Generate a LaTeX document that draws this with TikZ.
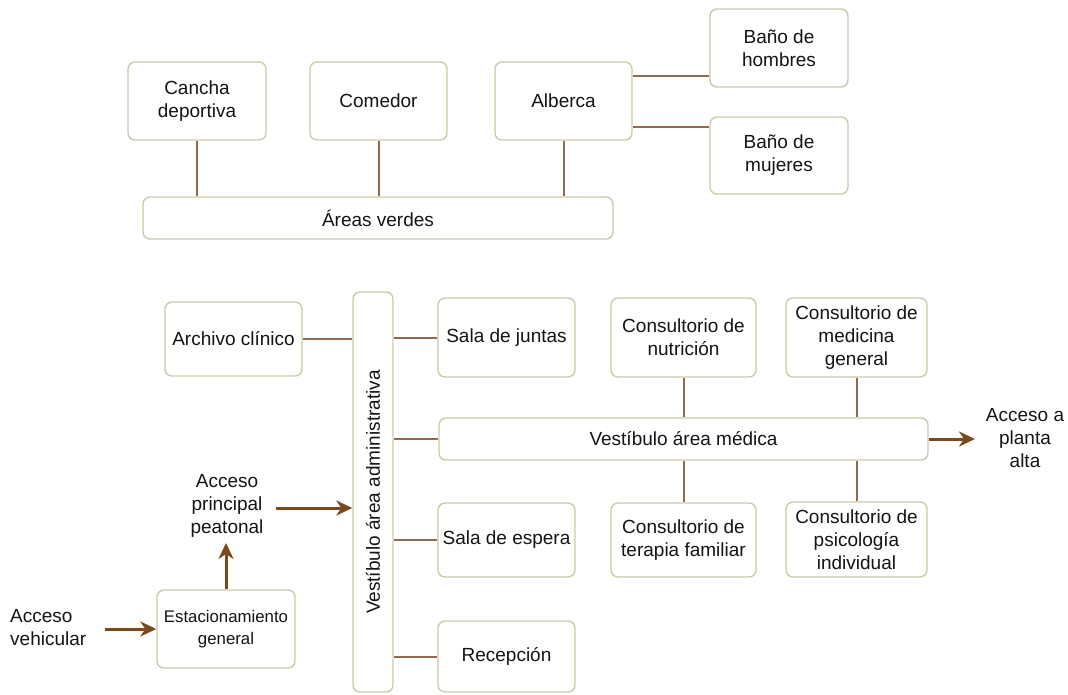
\documentclass[tikz,border=0pt]{standalone}
\usepackage{fontspec}
\setmainfont{Liberation Sans}
\usetikzlibrary{arrows.meta}
\definecolor{boxc}{RGB}{200,204,172}
\definecolor{linec}{RGB}{145,106,80}
\definecolor{arrc}{RGB}{122,74,30}
\definecolor{txtc}{RGB}{20,20,20}
\tikzset{
  box/.style={draw=boxc, line width=1.4pt, rounded corners=7pt, fill=white, align=center, inner sep=2pt,
    text=txtc, font=\fontsize{19}{23}\selectfont},
  lbl/.style={align=center, inner sep=0pt, text=txtc, font=\fontsize{19}{23}\selectfont},
  conn/.style={draw=linec, line width=2pt},
  arr/.style={draw=arrc, line width=3pt, -{Stealth[length=16pt,width=15pt,inset=5pt]}}
}
\begin{document}
\begin{tikzpicture}[x=1pt,y=-1pt]
\useasboundingbox (0,0) rectangle (1068,694);
% top group
\node[box, minimum width=138, minimum height=78] (cancha) at (197,101) {Cancha\\deportiva};
\node[box, minimum width=137, minimum height=78] (comedor) at (378.5,101) {Comedor};
\node[box, minimum width=137, minimum height=78] (alberca) at (563.5,101) {Alberca};
\node[box, minimum width=138, minimum height=78] (hombres) at (779,48) {Baño de\\hombres};
\node[box, minimum width=138, minimum height=77] (mujeres) at (779,155.5) {Baño de\\mujeres};
\node[box, minimum width=470, minimum height=42] (verdes) at (378,218) {Áreas verdes};
\draw[conn] (cancha.south) -- (cancha.south |- verdes.north);
\draw[conn] (comedor.south) -- (comedor.south |- verdes.north);
\draw[conn] (alberca.south) -- (alberca.south |- verdes.north);
\draw[conn] ([yshift=25pt]alberca.east) -- ([yshift=25pt]alberca.east -| hombres.west);
\draw[conn] ([yshift=-26pt]alberca.east) -- ([yshift=-26pt]alberca.east -| mujeres.west);
% bottom group
\node[box, rotate=90, minimum width=400, minimum height=40] (vadmin) at (373,492) {Vestíbulo área administrativa};
\node[box, minimum width=137, minimum height=74] (archivo) at (233.5,339) {Archivo clínico};
\node[box, minimum width=137, minimum height=79] (juntas) at (506.5,337.5) {Sala de juntas};
\node[box, minimum width=489, minimum height=42] (vmed) at (683.5,439) {Vestíbulo área médica};
\node[box, minimum width=137, minimum height=74] (espera) at (506.5,540) {Sala de espera};
\node[box, minimum width=137, minimum height=71] (recep) at (506.5,656.5) {Recepción};
\node[box, minimum width=145, minimum height=79] (nutri) at (683.5,337.5) {Consultorio de\\nutrición};
\node[box, minimum width=141, minimum height=79] (medic) at (856.5,337.5) {Consultorio de\\medicina\\general};
\node[box, minimum width=145, minimum height=74] (terap) at (683.5,540) {Consultorio de\\terapia familiar};
\node[box, minimum width=141, minimum height=75] (psico) at (856.5,539.5) {Consultorio de\\psicología\\individual};
\node[box, minimum width=138, minimum height=78, font=\fontsize{16.8}{21.5}\selectfont] (estac) at (226,629) {Estacionamiento\\general};
\node[lbl, align=left, anchor=west] (vehic) at (10,628) {Acceso\\vehicular};
\node[lbl] (peat) at (227,506) {Acceso\\principal\\peatonal};
\node[lbl] (planta) at (1025,438) {Acceso a\\planta\\alta};
\coordinate (vehA) at (105,629);
\coordinate (peatA) at (276,508);
\coordinate (peatB) at (226,543);
\coordinate (plantaB) at (975,439);
% connectors
\draw[conn] (archivo.east) -- (archivo.east -| vadmin.north);
\draw[conn] (juntas.west) -- (juntas.west -| vadmin.south);
\draw[conn] (vmed.west) -- (vmed.west -| vadmin.south);
\draw[conn] (espera.west) -- (espera.west -| vadmin.south);
\draw[conn] (recep.west) -- (recep.west -| vadmin.south);
\draw[conn] (nutri.south) -- (nutri.south |- vmed.north);
\draw[conn] (medic.south) -- (medic.south |- vmed.north);
\draw[conn] (terap.north) -- (terap.north |- vmed.south);
\draw[conn] (psico.north) -- (psico.north |- vmed.south);
% arrows
\draw[arr] (vehA) -- (estac.west);
\draw[arr] (estac.north) -- (peatB);
\draw[arr] (peatA) -- (peatA -| vadmin.north);
\draw[arr] (vmed.east) -- (plantaB);
\end{tikzpicture}
\end{document}
